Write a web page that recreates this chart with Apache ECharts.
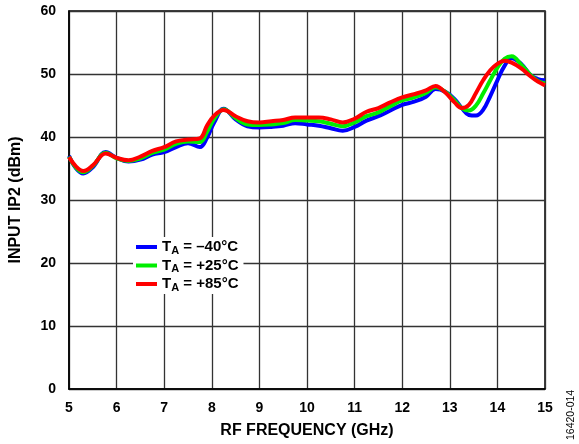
<!DOCTYPE html>
<html><head><meta charset="utf-8">
<script src="https://cdn.jsdelivr.net/npm/echarts@6/dist/echarts.min.js"></script>
<style>html,body{margin:0;padding:0;background:#fff}#c{width:579px;height:444px}</style>
</head><body><div id="c"></div>
<script>
const freq = [5.0,5.15,5.3,5.5,5.77,6.0,6.25,6.5,6.75,7.0,7.25,7.5,7.75,7.9,8.05,8.25,8.5,8.75,9.0,9.25,9.5,9.75,10.0,10.25,10.5,10.75,11.0,11.25,11.5,11.75,12.0,12.25,12.5,12.7,12.9,13.1,13.25,13.4,13.55,13.7,13.85,14.0,14.15,14.3,14.5,14.7,14.85,15.0];
const ipM40 = [37.0,35.0,34.2,35.2,37.6,36.7,36.1,36.4,37.2,37.6,38.4,39.0,38.4,39.9,42.3,44.5,42.8,41.7,41.5,41.6,41.8,42.2,42.0,41.8,41.4,41.0,41.6,42.6,43.3,44.2,45.1,45.6,46.4,47.6,47.2,46.0,44.6,43.5,43.4,44.3,46.5,49.0,51.3,52.5,51.6,49.8,49.2,49.0];
const ipP25 = [36.9,35.1,34.4,35.4,37.5,36.6,36.2,36.6,37.5,38.0,38.9,39.3,39.2,40.8,42.9,44.4,43.0,42.0,41.9,42.0,42.2,42.7,42.6,42.5,42.1,41.7,42.3,43.3,43.9,44.9,45.8,46.3,47.0,47.9,47.2,45.8,44.6,44.2,45.0,46.9,49.0,51.0,52.4,52.8,51.5,49.8,48.9,48.5];
const ipP85 = [36.8,35.3,34.6,35.5,37.4,36.7,36.3,36.9,37.8,38.4,39.3,39.6,39.8,41.8,43.4,44.3,43.3,42.5,42.3,42.5,42.7,43.1,43.1,43.1,42.8,42.3,42.9,44.0,44.6,45.5,46.3,46.8,47.4,48.1,47.1,45.5,44.6,45.1,47.0,49.0,50.6,51.6,52.1,51.8,50.9,49.6,48.8,48.2];
const seriesNames = ['−40°C','+25°C','+85°C'];
const seriesColors = ['#0000ff','#00ee00','#ff0000'];
const seriesData = [ipM40, ipP25, ipP85];
const labelsFor = {'−40°C':'–40°C','+25°C':'+25°C','+85°C':'+85°C'};

const font = 'Liberation Sans, Arial, sans-serif';
const chart = echarts.init(document.getElementById('c'));
chart.setOption({
  animation: false,
  grid: {left: 69, right: 34, top: 11, bottom: 55, show: true, borderColor: '#000', borderWidth: 1.5, backgroundColor: 'transparent'},
  xAxis: {
    type: 'value', min: 5, max: 15, interval: 1,
    name: 'RF FREQUENCY (GHz)', nameLocation: 'middle', nameGap: 34,
    nameTextStyle: {fontFamily: font, fontWeight: 'bold', fontSize: 16, color: '#000'},
    axisLine: {lineStyle: {color: '#000', width: 1.5}}, axisTick: {show: false},
    axisLabel: {fontFamily: font, fontWeight: 'bold', fontSize: 14, color: '#000', margin: 12},
    splitLine: {lineStyle: {color: '#333', width: 1.3}}
  },
  yAxis: {
    type: 'value', min: 0, max: 60, interval: 10,
    name: 'INPUT IP2 (dBm)', nameLocation: 'middle', nameGap: 45, nameRotate: 90,
    nameTextStyle: {fontFamily: font, fontWeight: 'bold', fontSize: 16, color: '#000'},
    axisLine: {lineStyle: {color: '#000', width: 1.5}}, axisTick: {show: false},
    axisLabel: {fontFamily: font, fontWeight: 'bold', fontSize: 14, color: '#000', margin: 13},
    splitLine: {lineStyle: {color: '#333', width: 1.3}}
  },
  legend: {
    orient: 'vertical', left: 133, top: 237, itemWidth: 21, itemHeight: 4, itemGap: 0.5,
    backgroundColor: '#fff', padding: [1, 5, 1, 3],
    icon: 'rect',
    data: seriesNames,
    formatter: n => '{t|T}{s|A}{t| = ' + labelsFor[n] + '}',
    textStyle: {
      fontFamily: font, fontWeight: 'bold', fontSize: 15, color: '#000',
      rich: {
        t: {fontFamily: font, fontWeight: 'bold', fontSize: 15, color: '#000', lineHeight: 16},
        s: {fontFamily: font, fontWeight: 'bold', fontSize: 11, color: '#000', lineHeight: 9, padding: [7, 0, 0, 0]}
      }
    }
  },
  series: seriesNames.map((n, i) => ({
    name: n, type: 'line', smooth: 0.4, showSymbol: false, symbol: 'none',
    color: seriesColors[i],
    lineStyle: {width: 4, color: seriesColors[i]},
    data: freq.map((f, j) => [f, seriesData[i][j]]),
    z: 2 + i
  })),
  graphic: [{
    type: 'text', x: 571, y: 440, rotation: Math.PI / 2,
    style: {text: '16420-014', fontFamily: font, fontSize: 10.5, fill: '#000', textAlign: 'left', textVerticalAlign: 'middle'}
  }]
});
</script></body></html>
